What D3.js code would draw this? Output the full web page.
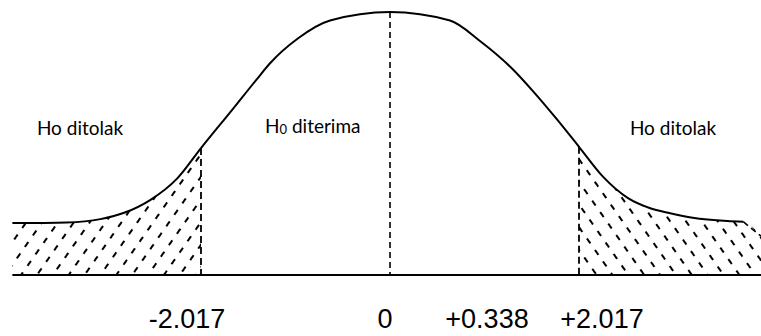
<!DOCTYPE html>
<html>
<head>
<meta charset="utf-8">
<script src="https://cdn.jsdelivr.net/npm/d3@7/dist/d3.min.js"></script>
<style>
  html, body { margin: 0; padding: 0; background: #fff; }
  svg { display: block; }
</style>
</head>
<body>
<svg id="chart" width="761" height="336"></svg>
<script>
// Sampled points of the test-statistic curve (t units, relative height)
const curveT = [-4.03, -3.45, -3.09, -2.83, -2.56, -2.27, -2.017, -1.68, -1.42, -1.28,
                -0.98, -0.64, 0, 0.64, 0.96, 1.31, 1.53, 1.78, 2.017, 2.27, 2.54, 2.77,
                2.99, 3.23, 3.60, 3.77];
const curveHeight = [0.079, 0.080, 0.085, 0.095, 0.114, 0.147, 0.193, 0.252, 0.298, 0.322,
                     0.360, 0.387, 0.400, 0.387, 0.356, 0.313, 0.279, 0.237, 0.195, 0.150,
                     0.117, 0.102, 0.094, 0.087, 0.082, 0.081];

// Dashed edge that closes the right rejection area past the end of the curve
const edgeT = [3.77, 3.96];
const edgeHeight = [0.081, 0.059];

// Critical values and the computed statistic
const tCritical = [-2.017, 2.017];
const tickLabels = ["-2.017", "0", "+0.338", "+2.017"];
const regionLabels = ["Ho ditolak", "diterima", "Ho ditolak"];

// ---- layout ----
const width = 761, height = 336;
const baseY = 275, peakY = 12;
const labelX = [187, 385, 487, 602];
const labelY = 328;

const svg = d3.select("#chart");

const x = d3.scaleLinear().domain([tCritical[0], tCritical[1]]).range([201, 579]);
const y = d3.scaleLinear().domain([0, 0.4]).range([baseY, peakY]);

const pts = curveT.map((t, i) => ({ t, h: curveHeight[i] }));
const smooth = d3.curveMonotoneX;

const line = d3.line().x(d => x(d.t)).y(d => y(d.h)).curve(smooth);
const area = d3.area().x(d => x(d.t)).y0(y(0)).y1(d => y(d.h)).curve(smooth);

const defs = svg.append("defs");

// dashed diagonal hatching
function hatch(id, angle) {
  const p = defs.append("pattern")
    .attr("id", id)
    .attr("patternUnits", "userSpaceOnUse")
    .attr("width", 13).attr("height", 14)
    .attr("patternTransform", `rotate(${angle})`);
  p.append("line")
    .attr("x1", 6).attr("y1", 0).attr("x2", 6).attr("y2", 14)
    .attr("stroke", "#000").attr("stroke-width", 2)
    .attr("stroke-dasharray", "6,8");
}
hatch("hatchLeft", 35);
hatch("hatchRight", -35);

// left rejection region
const leftPts = pts.filter(d => d.t <= tCritical[0]);
svg.append("path")
  .attr("d", area(leftPts))
  .attr("fill", "url(#hatchLeft)");

// right rejection region (curve, then the closing edge)
const rightPts = pts.filter(d => d.t >= tCritical[1])
  .concat([{ t: edgeT[1], h: edgeHeight[1] }]);
svg.append("path")
  .attr("d", area(rightPts))
  .attr("fill", "url(#hatchRight)");

// baseline
svg.append("line")
  .attr("x1", x(curveT[0])).attr("x2", width)
  .attr("y1", y(0)).attr("y2", y(0))
  .attr("stroke", "#000").attr("stroke-width", 2);

// critical value dashed lines
const curveAt = t => pts.find(d => d.t === t).h;
svg.selectAll(".crit")
  .data(tCritical)
  .join("line")
  .attr("class", "crit")
  .attr("x1", d => x(d)).attr("x2", d => x(d))
  .attr("y1", d => y(curveAt(d))).attr("y2", y(0))
  .attr("stroke", "#000").attr("stroke-width", 1.8)
  .attr("stroke-dasharray", "7,4");

// centre dashed line
svg.append("line")
  .attr("x1", x(0)).attr("x2", x(0))
  .attr("y1", y(curveAt(0))).attr("y2", y(0))
  .attr("stroke", "#000").attr("stroke-width", 1.6)
  .attr("stroke-dasharray", "6,4");

// closing edge past the right end of the curve
svg.append("path")
  .attr("d", d3.line().x(d => x(d)).y((d, i) => y(edgeHeight[i]))(edgeT))
  .attr("fill", "none")
  .attr("stroke", "#000").attr("stroke-width", 1.6)
  .attr("stroke-dasharray", "6,4");

// the curve
svg.append("path")
  .attr("d", line(pts))
  .attr("fill", "none")
  .attr("stroke", "#000").attr("stroke-width", 2);

// region labels
const regFont = "Lato, 'Open Sans', sans-serif";
const regSize = 19;
svg.append("text")
  .attr("x", 80).attr("y", 135)
  .attr("text-anchor", "middle")
  .attr("font-family", regFont).attr("font-size", regSize)
  .text(regionLabels[0]);

svg.append("text")
  .attr("x", 673).attr("y", 135)
  .attr("text-anchor", "middle")
  .attr("font-family", regFont).attr("font-size", regSize)
  .text(regionLabels[2]);

const mid = svg.append("text")
  .attr("x", 265).attr("y", 133)
  .attr("font-family", regFont).attr("font-size", regSize);
mid.append("tspan").text("H");
mid.append("tspan").attr("font-size", 13).attr("dy", 1).text("0");
mid.append("tspan").attr("dy", -1).text(" " + regionLabels[1]);

// value labels under the axis
svg.selectAll(".tick-label")
  .data(tickLabels)
  .join("text")
  .attr("class", "tick-label")
  .attr("x", (d, i) => labelX[i])
  .attr("y", labelY)
  .attr("text-anchor", "middle")
  .attr("font-family", "'Liberation Sans', Arial, sans-serif")
  .attr("font-size", 27)
  .text(d => d);
</script>
</body>
</html>
